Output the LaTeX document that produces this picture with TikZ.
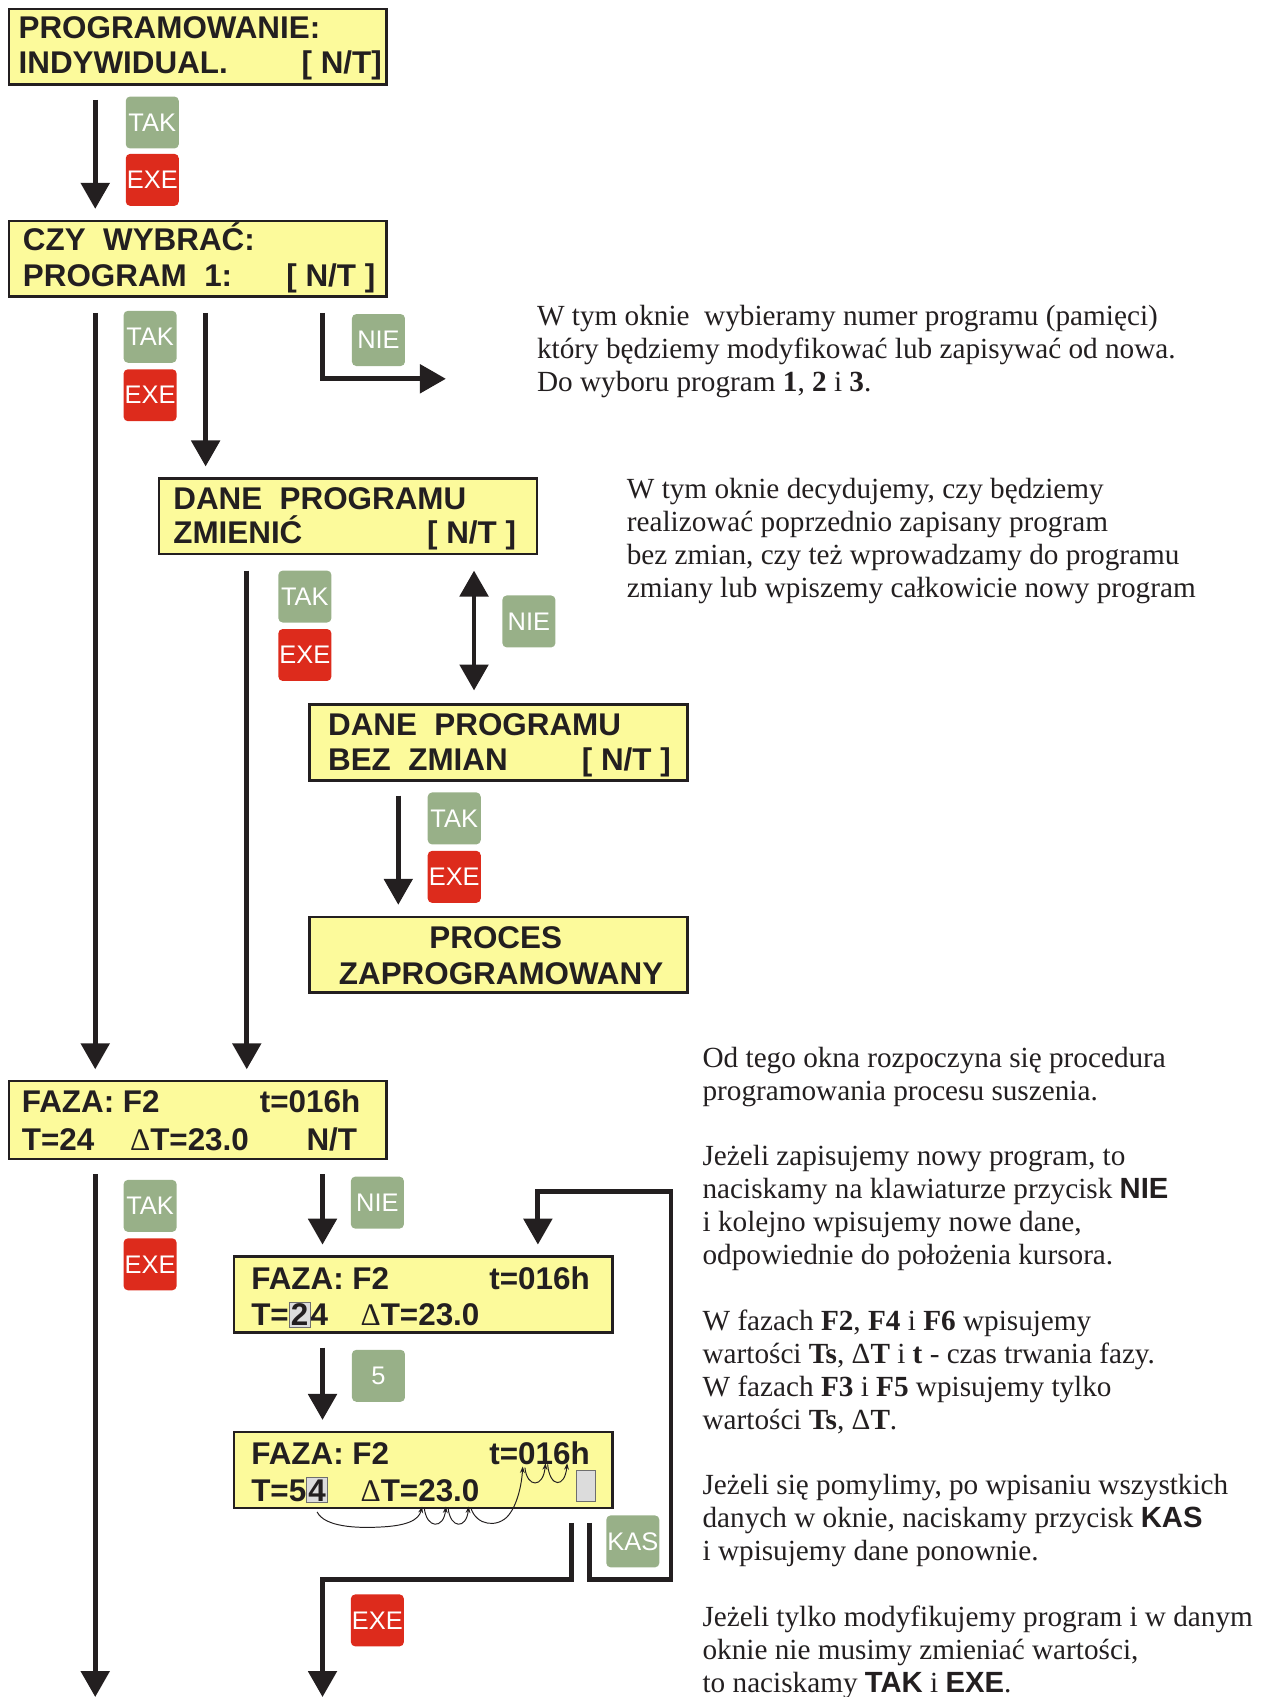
\documentclass[tikz,border=0pt]{standalone}
\usepackage{fontspec}
\setmainfont{Liberation Serif}
\newfontfamily\sansf{Liberation Sans}
\usetikzlibrary{arrows.meta,calc}

\definecolor{ink}{RGB}{35,31,32}
\definecolor{lcdyellow}{RGB}{252,250,155}
\definecolor{keygreen}{RGB}{152,176,136}
\definecolor{keyred}{RGB}{221,43,28}
\definecolor{curfill}{RGB}{220,220,220}
\definecolor{curborder}{RGB}{110,110,110}

\newcommand\lcdfont{\sansf\bfseries\fontsize{29}{33}\selectfont}
\newcommand\keyfont{\sansf\fontsize{23.5}{26}\selectfont}
\newcommand\notefont{\rmfamily\fontsize{27}{30.4}\selectfont}
\newcommand\keyname[1]{{\sansf\bfseries #1}}
\newcommand\curdigit[1]{{\setlength\fboxsep{1pt}\setlength\fboxrule{1pt}\fcolorbox{curborder}{curfill}{#1}}}
\newcommand\dlt{{\rmfamily\mdseries Δ}}

\begin{document}
\begin{tikzpicture}[x=1pt,y=-1pt,
  lcd/.style={draw=ink, fill=lcdyellow, line width=2.2pt, minimum width=349pt,
    minimum height=70pt, anchor=north west, inner sep=0pt},
  lcdtxt/.style={anchor=base west, inner sep=0pt, font=\lcdfont, text=ink},
  lcdtxtr/.style={lcdtxt, anchor=base east},
  lcdtxtc/.style={lcdtxt, anchor=base},
  key/.style={rounded corners=4pt, minimum width=49pt, minimum height=48pt,
    inner sep=0pt, anchor=north west, font=\keyfont, text=white},
  tak/.style={key, fill=keygreen},
  exe/.style={key, fill=keyred},
  flow/.style={draw=ink, line width=4.5pt, line join=miter,
    -{Triangle[width=26pt,length=24pt]}},
  flowboth/.style={draw=ink, line width=4.5pt,
    {Triangle[width=26pt,length=24pt]}-{Triangle[width=26pt,length=24pt]}},
  hop/.style={draw=ink, line width=0.9pt, -{Stealth[length=6pt,width=4.5pt]}},
  note/.style={anchor=base west, inner sep=0pt, font=\notefont, text=ink}
]
\useasboundingbox (0,0) rectangle (1176,1568);

% ---------- screens ----------
\node[lcd] (b1) at (7,7) {};
\node[lcdtxt] (b1a) at (17,36) {PROGRAMOWANIE:};
\node[lcdtxt] (b1b) at (17,68) {INDYWIDUAL.};
\node[lcdtxtr] (b1c) at (353,68) {[ N/T]};

\node[lcd] (b2) at (7,203) {};
\node[lcdtxt] (b2a) at (21,231) {CZY\ \ WYBRAĆ:};
\node[lcdtxt] (b2b) at (21,265) {PROGRAM\ \ 1:};
\node[lcdtxtr] (b2c) at (347,265) {[ N/T ]};

\node[lcd] (b3) at (146,441) {};
\node[lcdtxt] (b3a) at (160,471) {DANE\ \ PROGRAMU};
\node[lcdtxt] (b3b) at (160,502) {ZMIENIĆ};
\node[lcdtxtr] (b3c) at (477,502) {[ N/T ]};

\node[lcd] (b4) at (285,650) {};
\node[lcdtxt] (b4a) at (303,680) {DANE\ \ PROGRAMU};
\node[lcdtxt] (b4b) at (303,712) {BEZ\ \ ZMIAN};
\node[lcdtxtr] (b4c) at (620,712) {[ N/T ]};

\node[lcd] (b5) at (285,846) {};
\node[lcdtxtc] (b5a) at (458,876) {PROCES};
\node[lcdtxtc] (b5b) at (463,910) {ZAPROGRAMOWANY};

\node[lcd, minimum height=72pt] (b6) at (7,998) {};
\node[lcdtxt] (b6a) at (20,1028) {FAZA: F2};
\node[lcdtxt] (b6b) at (240,1028) {t=016h};
\node[lcdtxt] (b6c) at (20,1063) {T=24};
\node[lcdtxt] (b6d) at (120,1063) {\dlt T=23.0};
\node[lcdtxt] (b6e) at (283,1063) {N/T};

\node[lcd, minimum width=350pt] (b7) at (215,1160) {};
\node[lcdtxt] (b7a) at (232,1191) {FAZA: F2};
\node[lcdtxt] (b7b) at (452,1191) {t=016h};
\node[lcdtxt] (b7c) at (232,1225) {T=\curdigit{2}4};
\node[lcdtxt] (b7d) at (333,1225) {\dlt T=23.0};

\node[lcd, minimum width=350pt] (b8) at (215,1322) {};
\node[lcdtxt] (b8a) at (232,1353) {FAZA: F2};
\node[lcdtxt] (b8b) at (452,1353) {t=016h};
\node[lcdtxt] (b8c) at (232,1387) {T=5\curdigit{4}};
\node[lcdtxt] (b8d) at (333,1387) {\dlt T=23.0};
\node[draw=curborder, fill=curfill, line width=1pt, minimum width=18pt,
  minimum height=29pt, inner sep=0pt, anchor=north west] (cur8) at (532,1358) {};

% ---------- keys ----------
\node[tak] (tak1) at (116,89) {TAK};
\node[exe] (exe1) at (116,142) {EXE};
\node[tak] (tak2) at (114,287) {TAK};
\node[exe] (exe2) at (114,341) {EXE};
\node[tak] (nie1) at (325,290) {NIE};
\node[tak] (tak3) at (257,527) {TAK};
\node[exe] (exe3) at (257,581) {EXE};
\node[tak] (nie2) at (464,550) {NIE};
\node[tak] (tak4) at (395,732) {TAK};
\node[exe] (exe4) at (395,786) {EXE};
\node[tak] (tak5) at (114,1090) {TAK};
\node[exe] (exe5) at (114,1144) {EXE};
\node[tak] (nie3) at (324,1087) {NIE};
\node[tak] (five) at (325,1247) {5};
\node[tak] (kas) at (560,1400) {KAS};
\node[exe] (exe6) at (324,1473) {EXE};

% ---------- free ends ----------
\coordinate (nieout) at (412,350);
\coordinate (out1) at (88,1568);
\coordinate (out2) at (298,1568);
\coordinate (kasturn) at (620,1101);

% ---------- flow ----------
\draw[flow] ($(b1.south west)+(81,13)$) -- ($(b2.north west)+(81,-10)$);
\draw[flow] ($(b2.south west)+(81,14)$) -- ($(b6.north west)+(81,-10)$);
\draw[flow] ($(b2.south west)+(183,14)$) -- ($(b3.north west)+(44,-10)$);
\draw[flow] ($(b2.south west)+(291,14)$) |- (nieout);
\draw[flow] ($(b3.south west)+(82,14)$) -- ($(b6.north west)+(221,-10)$);
\draw[flowboth] ($(b3.south west)+(292,14)$) -- ($(b4.north west)+(153,-12)$);
\draw[flow] ($(b4.south west)+(83,13)$) -- ($(b5.north west)+(83,-10)$);
\draw[flow] ($(b6.south west)+(81,13)$) -- (out1);
\draw[flow] ($(b6.south west)+(291,13)$) -- ($(b7.north west)+(83,-10)$);
\draw[flow] ($(b7.south west)+(83,13)$) -- ($(b8.north west)+(83,-10)$);
\draw[flow] ($(b8.south west)+(313,13)$) -- ++(0,52) -| (out2);
\draw[flow] ($(b8.south west)+(330,13)$) -- ++(0,52) -| (kasturn)
  -| ($(b7.north west)+(282,-10)$);

% ---------- cursor hops ----------
\draw[hop] (293,1397) .. controls (300,1411) and (330,1412) .. (350,1411)
  .. controls (375,1410) and (387,1405) .. (390,1392);
\draw[hop] (392,1393) .. controls (394,1413) and (410,1413) .. (412,1392);
\draw[hop] (414,1393) .. controls (416,1413) and (431,1413) .. (433,1392);
\draw[hop] (435,1393) .. controls (440,1410) and (460,1412) .. (470,1400)
  .. controls (478,1390) and (482,1372) .. (483,1355);
\draw[hop] (485,1356) .. controls (487,1375) and (502,1375) .. (504,1352);
\draw[hop] (506,1353) .. controls (508,1375) and (522,1375) .. (524,1352);

% ---------- notes ----------
\node[note] (n1) at (496,301) {\parbox[t]{680pt}{\raggedright
W tym oknie\ \ wybieramy numer programu (pamięci)\\
który będziemy modyfikować lub zapisywać od nowa.\\
Do wyboru program \textbf{1}, \textbf{2} i \textbf{3}.}};

\node[note] (n2) at (579,461) {\parbox[t]{600pt}{\raggedright
W tym oknie decydujemy, czy będziemy\\
realizować poprzednio zapisany program\\
bez zmian, czy też wprowadzamy do programu\\
zmiany lub wpiszemy całkowicie nowy program}};

\node[note] (n3) at (649,986) {\parbox[t]{600pt}{\raggedright
Od tego okna rozpoczyna się procedura\\
programowania procesu suszenia.\\[30.4pt]
Jeżeli zapisujemy nowy program, to\\
naciskamy na klawiaturze przycisk \keyname{NIE}\\
i kolejno wpisujemy nowe dane,\\
odpowiednie do położenia kursora.\\[30.4pt]
W fazach \textbf{F2}, \textbf{F4} i \textbf{F6} wpisujemy\\
wartości \textbf{Ts}, Δ\textbf{T} i \textbf{t} - czas trwania fazy.\\
W fazach \textbf{F3} i \textbf{F5} wpisujemy tylko\\
wartości \textbf{Ts}, Δ\textbf{T}.\\[30.4pt]
Jeżeli się pomylimy, po wpisaniu wszystkich\\
danych w oknie, naciskamy przycisk \keyname{KAS}\\
i wpisujemy dane ponownie.\\[30.4pt]
Jeżeli tylko modyfikujemy program i w danym\\
oknie nie musimy zmieniać wartości,\\
to naciskamy \keyname{TAK} i \keyname{EXE}.}};
\end{tikzpicture}
\end{document}
